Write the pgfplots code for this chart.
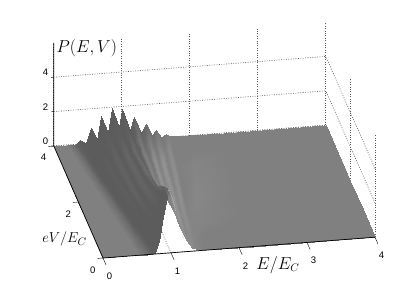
\documentclass[border=0pt]{standalone}
\usepackage{fontspec}
\setmainfont{Liberation Sans}
\usepackage{pgfplots}
\pgfplotsset{compat=1.18}
\usetikzlibrary{calc}
\begin{document}
\begin{tikzpicture}
\begin{axis}[
  x={(68pt,5.2pt)}, y={(-12.3pt,28pt)}, z={(0pt,17.2pt)},
  xmin=0,xmax=4,ymin=0,ymax=4,zmin=0,zmax=6,
  xtick={0,1,2,3,4}, ytick={0,2,4}, ztick={0,2,4},
  grid=major,
  grid style={black!65,line width=0.6pt,dash pattern=on 0.9pt off 1.5pt},
  axis line style={draw=none},
  major tick length=0pt,
  clip=false,
  /pgf/number format/assume math mode=true,
  tick label style={font=\fontsize{9.5}{11}\selectfont},
  xticklabel style={xshift=5pt,yshift=-11pt},
  yticklabel style={xshift=-4pt,yshift=-5pt},
  zticklabel style={xshift=-2pt,yshift=1pt},
  colormap={bw}{gray(0cm)=(0); gray(1cm)=(1)},
  point meta min=0, point meta max=1,
  every axis x label/.style={at={(axis cs:2.446,-0.704,0)},anchor=center},
  every axis y label/.style={at={(axis cs:-0.429,0.758,0)},anchor=center},
  every axis z label/.style={at={(axis cs:0.485,4,5.55)},anchor=center},
  xlabel={\fontsize{16}{19}\selectfont $E/E_C$},
  ylabel={\fontsize{15.5}{19}\selectfont $eV/E_C$},
  zlabel={\fontsize{17}{20}\selectfont $P(E,V)$},
]
\addplot3[surf,shader=interp,z buffer=default,mesh/rows=7,mesh/cols=25,mesh/ordering=x varies,
  point meta=\thisrow{m}] table {
E V z m
4 4 0 .5
2.5 4 0 .5
2.0 4 .03 .5
1.71 4 .08 .5
1.65 4 .2 .5
1.58 4 .06 .47
1.5 4 .48 .46
1.44 4 .2 .43
1.35 4 .87 .42
1.28 4 .37 .39
1.18 4 1.35 .40
1.12 4 .59 .36
1.01 4 1.84 .36
.96 4 .76 .36
.86 4 1.95 .36
.79 4 .52 .36
.70 4 1.55 .36
.63 4 .16 .36
.54 4 .88 .36
.47 4 .02 .36
.38 4 .23 .36
.33 4 0 .38
.28 4 0 .44
.2 4 0 .5
0 4 0 .5
4 3.5 0 .5
2.461 3.5 0 .5
1.935 3.5 .02 .5
1.666 3.5 .06 .5
1.606 3.5 .12 .55
1.538 3.5 .1 .49
1.462 3.5 .35 .52
1.402 3.5 .25 .47
1.318 3.5 .6 .5
1.253 3.5 .45 .42
1.16 3.5 .9 .46
1.104 3.5 .7 .37
1.005 3.5 1.25 .38
.96 3.5 .85 .36
.87 3.5 1.2 .37
.806 3.5 .6 .36
.723 3.5 .9 .37
.66 3.5 .25 .36
.579 3.5 .5 .36
.513 3.5 .1 .36
.43 3.5 .1 .36
.381 3.5 0 .38
.327 3.5 0 .44
.242 3.5 0 .5
0 3.5 0 .5
4 3 0 .5
2.425 3 0 .5
1.875 3 .02 .52
1.625 3 .05 .5
1.565 3 .08 .56
1.5 3 .12 .5
1.428 3 .25 .58
1.368 3 .3 .5
1.288 3 .5 .57
1.228 3 .55 .45
1.143 3 .8 .5
1.09 3 .85 .37
1.0 3 1.1 .42
.96 3 .95 .36
.88 3 .95 .40
.82 3 .65 .36
.745 3 .6 .39
.688 3 .3 .36
.615 3 .3 .37
.553 3 .1 .36
.476 3 .03 .36
.428 3 0 .38
.37 3 0 .44
.28 3 0 .5
0 3 0 .5
4 2 0 .5
2.35 2 0 .5
1.75 2 .01 .53
1.54 2 .05 .5
1.48 2 .08 .57
1.42 2 .15 .52
1.355 2 .3 .58
1.295 2 .4 .52
1.225 2 .6 .58
1.175 2 .8 .48
1.105 2 1.0 .52
1.06 2 1.2 .39
.99 2 1.5 .43
.958 2 1.2 .36
.90 2 1.0 .40
.85 2 .7 .36
.79 2 .5 .39
.745 2 .35 .36
.69 2 .25 .37
.635 2 .1 .36
.573 2 0 .36
.525 2 0 .38
.46 2 0 .44
.36 2 0 .5
0 2 0 .5
4 1 0 .5
2.275 1 0 .5
1.625 1 .01 .52
1.455 1 .05 .52
1.395 1 .12 .56
1.34 1 .25 .53
1.283 1 .5 .58
1.223 1 .75 .53
1.163 1 1.1 .58
1.123 1 1.4 .5
1.068 1 1.75 .52
1.03 1 2.0 .39
.98 1 2.3 .40
.956 1 1.95 .36
.92 1 1.6 .38
.88 1 1.2 .36
.835 1 .85 .37
.803 1 .6 .36
.765 1 .35 .36
.718 1 .15 .36
.669 1 0 .36
.623 1 0 .38
.55 1 0 .44
.44 1 0 .5
0 1 0 .5
4 .5 0 .5
2.236 .5 0 .5
1.56 .5 .01 .5
1.411 .5 .06 .52
1.351 .5 .15 .55
1.298 .5 .35 .53
1.245 .5 .65 .57
1.185 .5 1.05 .53
1.13 .5 1.5 .57
1.095 .5 1.95 .5
1.048 .5 2.45 .5
1.014 .5 2.8 .40
.975 .5 3.1 .38
.955 .5 2.8 .36
.93 .5 2.4 .36
.896 .5 1.9 .36
.858 .5 1.4 .36
.832 .5 1.0 .36
.804 .5 .6 .36
.76 .5 .25 .36
.719 .5 .02 .36
.673 .5 0 .38
.597 .5 0 .44
.482 .5 0 .5
0 .5 0 .5
4 0 0 .5
2.2 0 0 .5
1.5 0 .01 .5
1.37 0 .08 .52
1.31 0 .19 .55
1.26 0 .45 .55
1.21 0 .8 .57
1.15 0 1.3 .55
1.10 0 1.88 .58
1.07 0 2.4 .55
1.03 0 3.06 .58
1.00 0 3.4 .48
.97 0 3.7 .42
.955 0 3.5 .36
.94 0 3.25 .36
.91 0 2.7 .36
.88 0 2.1 .36
.86 0 1.5 .36
.84 0 .96 .36
.80 0 .4 .36
.765 0 .06 .36
.72 0 0 .38
.64 0 0 .44
.52 0 0 .5
0 0 0 .5
};
\addplot3[draw=black!30,line width=0.6pt,no marks] coordinates {(.965,0,3.6)(.97,0,3.7)(1.0,0,3.4)(1.03,0,3.06)(1.07,0,2.4)};
\addplot3[black,line width=0.7pt,no marks] coordinates {(0,4,6)(0,4,0)(0,0,0)(4,0,0)};
\addplot3[black,line width=0.4pt,no marks] coordinates {(0,0,0)(0,-.25,0)};
\addplot3[black,line width=0.4pt,no marks] coordinates {(1,0,0)(1,-.25,0)};
\addplot3[black,line width=0.4pt,no marks] coordinates {(2,0,0)(2,-.25,0)};
\addplot3[black,line width=0.4pt,no marks] coordinates {(3,0,0)(3,-.25,0)};
\addplot3[black,line width=0.4pt,no marks] coordinates {(4,0,0)(4,-.25,0)};
\addplot3[black,line width=0.4pt,no marks] coordinates {(0,0,0)(-.08,0,0)};
\addplot3[black,line width=0.4pt,no marks] coordinates {(0,2,0)(-.08,2,0)};
\addplot3[black,line width=0.4pt,no marks] coordinates {(0,4,0)(-.08,4,0)};
\addplot3[black,line width=0.4pt,no marks] coordinates {(0,4,0)(-.04,4,0)};
\addplot3[black,line width=0.4pt,no marks] coordinates {(0,4,2)(-.04,4,2)};
\addplot3[black,line width=0.4pt,no marks] coordinates {(0,4,4)(-.04,4,4)};
\coordinate (O) at (axis cs:0,0,0);
\end{axis}
\pgfresetboundingbox
\useasboundingbox ($(O)+(-103pt,-33pt)$) rectangle ($(O)+(312pt,258pt)$);
\end{tikzpicture}
\end{document}
